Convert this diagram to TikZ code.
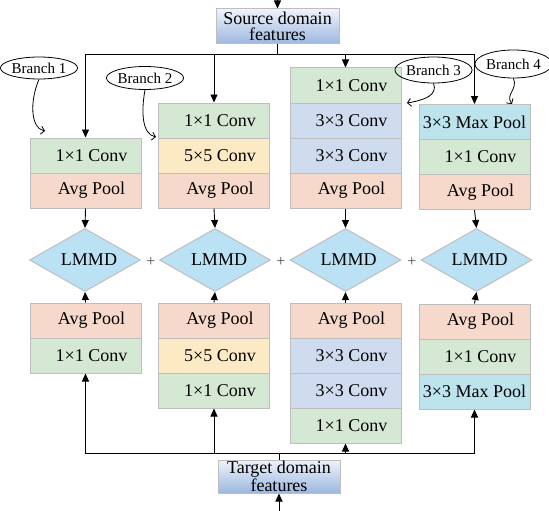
\documentclass[tikz,border=0pt]{standalone}
\usepackage{fontspec}
\setmainfont{Liberation Serif}
\usetikzlibrary{shapes.geometric,arrows.meta}

\definecolor{cgreen}{HTML}{D5E8D4}
\definecolor{cpeach}{HTML}{F7D9CB}
\definecolor{cyellow}{HTML}{FBEAC3}
\definecolor{cblue}{HTML}{CFDCEF}
\definecolor{ccyan}{HTML}{BDE4EC}
\definecolor{cdiam}{HTML}{BBE1F5}
\definecolor{cborder}{HTML}{BEBEBE}
\definecolor{gtop}{HTML}{EEF3FB}
\definecolor{gbot}{HTML}{9DB7E0}

\newcommand{\pad}{\hspace*{12pt}}

\tikzset{
  cell/.style={draw=cborder, line width=1pt, minimum width=111pt, minimum height=35pt,
    inner sep=0pt, font=\fontsize{18}{18}\selectfont},
  gcell/.style={cell, fill=cgreen},
  pcell/.style={cell, fill=cpeach},
  ycell/.style={cell, fill=cyellow},
  bcell/.style={cell, fill=cblue},
  ccell/.style={cell, fill=ccyan},
  lmmd/.style={diamond, draw=cborder, line width=1pt, fill=cdiam, minimum width=111pt,
    minimum height=63pt, inner sep=0pt, shape aspect=1.76, font=\fontsize{18}{18}\selectfont},
  featbox/.style={draw=cborder, line width=1pt, top color=gtop, bottom color=gbot,
    inner sep=0pt, align=center, font=\fontsize{18}{16}\selectfont},
  tagbox/.style={ellipse, draw, line width=0.8pt, inner sep=0pt, font=\fontsize{15}{15}\selectfont},
  link/.style={line width=0.9pt},
  arr/.style={link, -{Triangle[length=8pt,width=7pt]}},
  barb/.style={line width=0.8pt, -{Straight Barb[length=3.5pt,width=8pt]}},
  plussign/.style={text=black!70, font=\fontsize{16}{16}\selectfont, inner sep=0pt}
}

\begin{document}
\begin{tikzpicture}[x=1pt, y=-1pt]
\useasboundingbox (0,0) rectangle (549,511);

% input / output feature boxes
\node[featbox, minimum width=123pt, minimum height=35pt] (src) at (277.5,26.5) {Source domain\\features};
\node[featbox, minimum width=122pt, minimum height=33pt] (tgt) at (279,476.5) {Target domain\\features};
\coordinate (srcin) at (277.5,0);
\coordinate (tgtin) at (279,511);
\coordinate (tj) at (277.5,54);
\coordinate (bj) at (279,453);

% source-side branches
\node[gcell] (s1a) at (85.5,155.5) {\pad 1×1 Conv};
\node[pcell] (s1b) at (85.5,190.5) {\pad Avg Pool};

\node[gcell] (s2a) at (214,120.5) {\pad 1×1 Conv};
\node[ycell] (s2b) at (214,155.5) {\pad 5×5 Conv};
\node[pcell] (s2c) at (214,190.5) {\pad Avg Pool};

\node[gcell] (s3a) at (345.5,85.5) {\pad 1×1 Conv};
\node[bcell] (s3b) at (345.5,120.5) {\pad 3×3 Conv};
\node[bcell] (s3c) at (345.5,155.5) {\pad 3×3 Conv};
\node[pcell] (s3d) at (345.5,190.5) {\pad Avg Pool};

\node[ccell] (s4a) at (474.5,122) {3×3 Max Pool};
\node[gcell] (s4b) at (474.5,157) {\pad 1×1 Conv};
\node[pcell] (s4c) at (474.5,192) {\pad Avg Pool};

% LMMD terms
\node[lmmd] (d1) at (85,260) {\hspace*{8pt}LMMD};
\node[lmmd] (d2) at (215,260) {\hspace*{8pt}LMMD};
\node[lmmd] (d3) at (345.5,260) {\hspace*{6pt}LMMD};
\node[lmmd] (d4) at (476.5,260) {\hspace*{6pt}LMMD};
\node[plussign] (p1) at (151,262) {+};
\node[plussign] (p2) at (281,262) {+};
\node[plussign] (p3) at (412,262) {+};

% target-side branches
\node[pcell] (t1a) at (85.5,320.5) {\pad Avg Pool};
\node[gcell] (t1b) at (85.5,355.5) {\pad 1×1 Conv};

\node[pcell] (t2a) at (214,320.5) {\pad Avg Pool};
\node[ycell] (t2b) at (214,355.5) {\pad 5×5 Conv};
\node[gcell] (t2c) at (214,390.5) {\pad 1×1 Conv};

\node[pcell] (t3a) at (345.5,320.5) {\pad Avg Pool};
\node[bcell] (t3b) at (345.5,355.5) {\pad 3×3 Conv};
\node[bcell] (t3c) at (345.5,390.5) {\pad 3×3 Conv};
\node[gcell] (t3d) at (345.5,425.5) {\pad 1×1 Conv};

\node[pcell] (t4a) at (474.5,321.5) {\pad Avg Pool};
\node[gcell] (t4b) at (474.5,356.5) {\pad 1×1 Conv};
\node[ccell] (t4c) at (474.5,391.5) {3×3 Max Pool};

% source feature distribution
\draw[arr] (srcin) -- (src.north);
\draw[link] (src.south) -- (tj);
\draw[arr] (tj) -| (s1a.north);
\draw[arr] (tj) -| (s2a.north);
\draw[arr] (tj) -| (s3a.north);
\draw[arr] (tj) -| (s4a.north);

% target feature distribution
\draw[arr] (tgtin) -- (tgt.south);
\draw[link] (tgt.north) -- (bj);
\draw[arr] (bj) -| (t1b.south);
\draw[arr] (bj) -| (t2c.south);
\draw[arr] (bj) -| (t3d.south);
\draw[arr] (bj) -| (t4c.south);

% branches into LMMD
\draw[arr] (s1b.south) -- (d1.north);
\draw[arr] (s2c.south) -- (d2.north);
\draw[arr] (s3d.south) -- (d3.north);
\draw[arr] (s4c.south) -- (d4.north);
\draw[arr] (t1a.north) -- (d1.south);
\draw[arr] (t2a.north) -- (d2.south);
\draw[arr] (t3a.north) -- (d3.south);
\draw[arr] (t4a.north) -- (d4.south);

% branch tags
\node[tagbox, minimum width=72pt, minimum height=22pt] (e1) at (39,68) {Branch 1};
\node[tagbox, minimum width=70pt, minimum height=23pt] (e2) at (145,78) {Branch 2};
\node[tagbox, minimum width=64pt, minimum height=26pt] (e3) at (433.5,70) {Branch 3};
\node[tagbox, minimum width=67pt, minimum height=28pt] (e4) at (513.5,64) {Branch 4};
\coordinate (e1t) at (45,131);
\coordinate (e2t) at (156,137);
\coordinate (e3t) at (407,103);
\coordinate (e4t) at (512,104);
\draw[barb] (e1.south) .. controls (30,100) and (30,128) .. (e1t);
\draw[barb] (e2.south) .. controls (141,112) and (142,134) .. (e2t);
\draw[barb] (e3.south) .. controls (438,95) and (425,100) .. (e3t);
\draw[barb] (e4.south) .. controls (518,90) and (505,94) .. (e4t);
\end{tikzpicture}
\end{document}
